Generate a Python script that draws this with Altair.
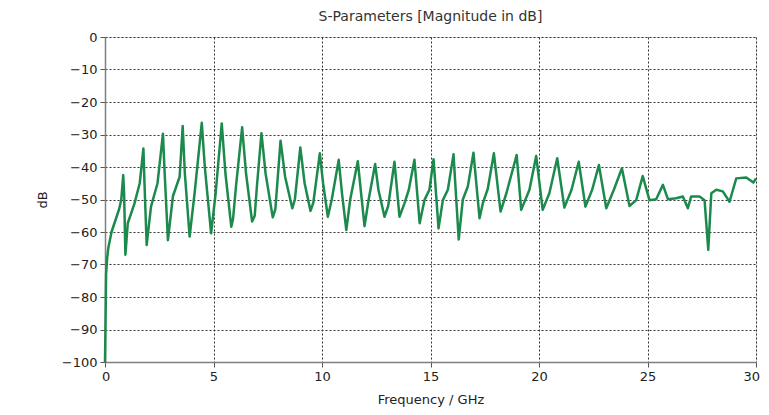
import altair as alt
import pandas as pd

freq_ghz = [0, 0.02, 0.05, 0.1, 0.15, 0.3, 0.5, 0.65, 0.75, 0.84, 0.88, 0.94, 1.05, 1.36, 1.6, 1.77, 1.82, 1.92,
            2.12, 2.42, 2.67, 2.75, 2.9, 3.13, 3.44, 3.58, 3.68, 3.9, 4.13, 4.46, 4.6, 4.89, 5.1, 5.38, 5.55, 5.82,
            5.9, 6.05, 6.32, 6.5, 6.78, 6.9, 7.0, 7.21, 7.4, 7.73, 7.85, 8.09, 8.3, 8.63, 8.75, 9.0, 9.2, 9.47,
            9.6, 9.9, 10.05, 10.27, 10.45, 10.77, 10.92, 11.12, 11.3, 11.65, 11.8, 11.96, 12.15, 12.45, 12.6, 12.88,
            13.05, 13.34, 13.57, 13.8, 14.0, 14.26, 14.5, 14.72, 14.95, 15.14, 15.37, 15.57, 15.8, 16.06, 16.3,
            16.49, 16.72, 16.98, 17.26, 17.41, 17.64, 17.92, 18.23, 18.5, 18.97, 19.18, 19.56, 19.87, 20.17, 20.48,
            20.84, 21.17, 21.5, 21.83, 22.14, 22.45, 22.76, 23.1, 23.45, 23.82, 24.17, 24.48, 24.78, 25.09, 25.4,
            25.71, 25.94, 26.32, 26.63, 26.86, 27.01, 27.4, 27.63, 27.8, 27.94, 28.17, 28.47, 28.78, 29.09, 29.55,
            29.88, 30.0]
s_db = [-100, -90, -73, -68, -65, -60, -56, -53, -50, -42.5, -48, -67, -57.3, -51.2, -45, -34.3, -45, -64,
        -52.2, -45, -29.8, -42, -62.5, -49, -43, -27.4, -42, -61.4, -48, -26.4, -40, -60.4, -48, -26.6, -42, -58.4,
        -56, -45, -27.8, -42, -56.8, -55, -46, -29.6, -42, -55.5, -53, -31.9, -43, -52.7, -50, -34, -45, -53.5,
        -51, -35.8, -45, -55.3, -50, -37.8, -48, -59.4, -50, -38.2, -48, -58.2, -50, -39.1, -47, -55.3,
        -52, -38.4, -55.3, -51.2, -47, -37.8, -57.3, -50.2, -47, -37.6, -58.9, -50.2, -47, -36.1, -62.3,
        -50, -46, -35.6, -55.8, -51.2, -46.7, -35.8, -53.7, -48, -36.3, -53.2, -47, -36.6, -53.2, -48,
        -37.3, -52.5, -47, -38.4, -52.2, -47, -39.4, -52.7, -47, -40.4, -52, -50.2, -42.8, -50.2, -49.9,
        -45.5, -49.9, -49.6, -49.1, -52.7, -49.1, -49.1, -50.2, -65.5, -48.1, -47, -47.5, -50.7, -43.5, -43.2,
        -44.8, -43.5]

x_ticks = [0, 5, 10, 15, 20, 25, 30]
y_ticks = [-100, -90, -80, -70, -60, -50, -40, -30, -20, -10, 0]

df = pd.DataFrame({"f": freq_ghz, "db": s_db, "i": list(range(len(freq_ghz)))})

FONT = "DejaVu Sans"

chart = alt.Chart(df).mark_line(color="#1b8a4c", strokeWidth=2.5, strokeJoin="round").encode(
    x=alt.X("f:Q", scale=alt.Scale(domain=[0, 30], nice=False),
            axis=alt.Axis(title="Frequency / GHz", values=x_ticks, format="d", grid=True,
                          gridDash=[2, 2], gridColor="#333333", gridWidth=1,
                          domainColor="#7f7f7f", domainWidth=1.5, tickColor="#555555", tickSize=5,
                          labelPadding=3, labelFontSize=13, labelFont=FONT, labelColor="#222222",
                          titleFontSize=13, titleFont=FONT, titleFontWeight="normal", titleColor="#222222",
                          titlePadding=10, labelFlush=True, labelFlushOffset=3.5)),
    y=alt.Y("db:Q", scale=alt.Scale(domain=[-100, 0], nice=False),
            axis=alt.Axis(title="dB", values=y_ticks, format="d", grid=True,
                          gridDash=[2, 2], gridColor="#333333", gridWidth=1,
                          domainColor="#7f7f7f", domainWidth=1.5, tickColor="#555555", tickSize=5,
                          labelPadding=3, labelFontSize=13, labelFont=FONT, labelColor="#222222",
                          titleFontSize=13, titleFont=FONT, titleFontWeight="normal", titleColor="#222222",
                          titlePadding=12)),
    order="i:Q",
).properties(
    width=651,
    height=325,
    title=alt.TitleParams("S-Parameters [Magnitude in dB]", fontSize=14, font=FONT,
                          fontWeight="normal", color="#333333", anchor="middle", offset=7),
    autosize=alt.AutoSizeParams(type="none"),
    padding={"left": 97, "top": 29, "right": 5, "bottom": 45},
).configure_view(
    stroke="#7f7f7f", strokeWidth=1.5
).configure(background="white")

chart.save("out.html", embed_options={"renderer": "svg", "actions": False})
